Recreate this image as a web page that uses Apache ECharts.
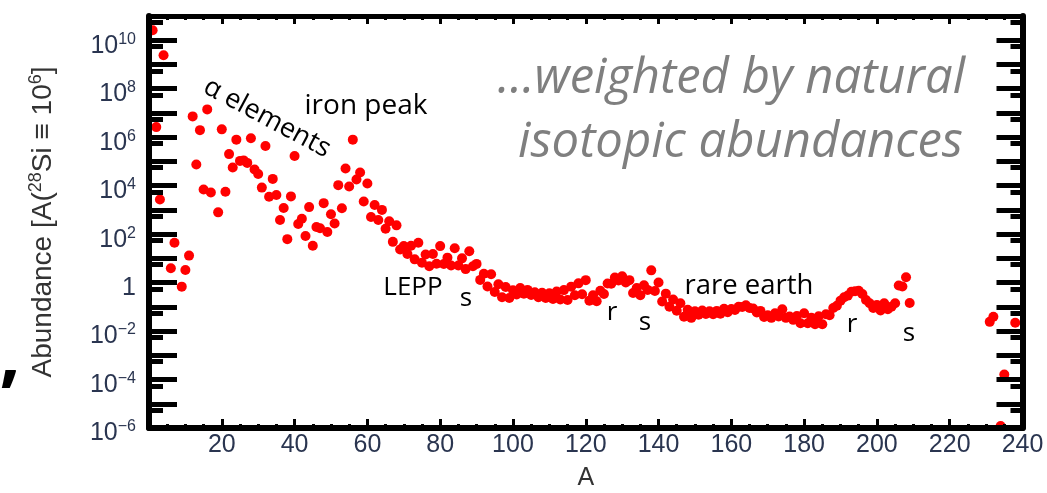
<!DOCTYPE html>
<html><head><meta charset="utf-8">
<script src="https://cdn.jsdelivr.net/npm/echarts@6/dist/echarts.min.js"></script>
<style>html,body{margin:0;padding:0;background:#fff}#c{width:1047px;height:493px}</style>
</head><body><div id="c"></div>
<script>
// Mass number A of each point
const massNumber = [
  1,2,3,4,6,7,9,10,11,12,13,14,15,16,17,19,20,21,22,23,24,25,26,27,28,29,30,31,32,33,34,35,36,37,38,39,40,
  41,42,43,44,45,46,47,48,49,50,51,52,53,54,55,56,57,58,59,60,61,62,63,64,65,66,67,68,69,70,
  71,72,73,74,75,76,77,78,79,80,81,82,83,84,85,86,87,88,89,90,91,92,93,94,95,96,97,98,99,100,
  101,102,103,104,105,106,107,108,109,110,111,112,113,114,115,116,117,118,119,120,
  121,122,123,124,125,126,127,128,129,130,131,132,133,134,135,136,137,138,139,140,
  141,142,143,144,145,146,147,148,149,150,151,152,153,154,155,156,157,158,159,160,
  161,162,163,164,165,166,167,168,169,170,171,172,173,174,175,176,177,178,179,180,
  181,182,183,184,185,186,187,188,189,190,191,192,193,194,195,196,197,198,199,200,
  201,202,203,204,205,206,207,208,209,231,232,234,235,238
];
// Abundance (Si-28 scale, 28Si = 1e6)
const abundance = [
  2.6e10,2.6e6,2.7e3,2.4e9,3.9,44,0.68,3.3,13,7.2e6,7.4e4,1.95e6,6.9e3,1.4e7,5.2e3,7.9e2,2.1e6,5.6e3,2.0e5,5.6e4,
  7.9e5,1.05e5,1.1e5,8.7e4,9.1e5,4.6e4,3.0e4,8.3e3,4.3e5,3.5e3,1.9e4,4.1e3,3.8e2,1.2e3,62,3.6e3,1.66e5,
  2.6e2,4.3e2,83,1.3e3,33,1.95e2,1.74e2,1.9e3,1.23e2,6.6e2,2.75e2,1.05e4,1.17e3,5.1e4,9.3e3,7.9e5,1.8e4,3.5e4,2.2e3,
  1.23e4,5.1e2,1.6e3,3.8e2,1.0e3,1.66e2,3.4e2,48,2.3e2,23,32,
  15,33,9.1,44,6.6,14.5,4.7,15,6.0,32,5.8,10.7,5.1,26,5.1,10,3.6,19.5,4.7,5.9,1.29,2.3,0.69,2.2,0.41,0.85,0.25,0.66,0.23,0.48,
  0.32,0.60,0.35,0.50,0.31,0.40,0.25,0.38,0.23,0.36,0.21,0.43,0.20,0.49,0.19,0.68,0.30,0.93,0.33,1.26,
  0.18,0.30,0.17,0.46,0.34,0.91,0.89,1.62,1.23,1.82,1.0,1.26,0.37,0.60,0.30,0.78,0.50,3.2,0.45,1.0,
  0.166,0.35,0.10,0.20,0.069,0.14,0.039,0.076,0.035,0.065,0.047,0.071,0.051,0.066,0.049,0.068,0.052,0.083,0.060,0.081,
  0.074,0.10,0.098,0.115,0.089,0.085,0.058,0.068,0.038,0.045,0.035,0.054,0.040,0.079,0.035,0.040,0.029,0.042,0.021,0.054,
  0.021,0.035,0.019,0.041,0.019,0.049,0.045,0.089,0.11,0.18,0.25,0.29,0.42,0.44,0.46,0.34,0.19,0.14,0.089,0.12,
  0.071,0.14,0.079,0.10,0.14,0.76,0.69,1.66,0.145,0.024,0.039,1.2e-6,1.6e-4,0.022
];
const xMin = 0, xMax = 240, xStep = 20;
const yMin = 1e-6, yMax = 1e11;
const yAxisTitle = '{n|Abundance [A(}{s|28}{n|Si ≡ 10}{s|6}{n|]}';
const xAxisTitle = 'A';
const noteLine1 = '…weighted by natural';
const noteLine2 = 'isotopic abundances';

const points = massNumber.map((a, i) => [a, abundance[i]]);
const labelColor = '#2a3550';
const labelFont = 'Liberation Sans';
const annFont = '"Open Sans"';

function yLabel(v) {
  const e = Math.round(Math.log10(v));
  if (e % 2 !== 0) return '';
  if (e === 0) return '{b|1}';
  return '{b|10}{s|' + (e < 0 ? '\u2212' + (-e) : e) + '}';
}

const chart = echarts.init(document.getElementById('c'), null, {renderer: 'canvas'});
const line6 = {onZero: false, lineStyle: {color: '#000', width: 6}};
chart.setOption({
  animation: false,
  backgroundColor: '#fff',
  grid: {left: 149, right: 24.5, top: 16, bottom: 65, containLabel: false, outerBoundsMode: 'none'},
  xAxis: [
    {
      type: 'value', min: xMin, max: xMax, interval: xStep, position: 'bottom', z: 5,
      axisLine: line6, splitLine: {show: false},
      axisTick: {inside: true, length: 9, lineStyle: {color: '#000', width: 3}},
      minorTick: {show: true, splitNumber: 4, length: 4, lineStyle: {color: '#000', width: 3}},
      axisLabel: {showMinLabel: false, fontFamily: labelFont, fontSize: 25, color: labelColor, margin: 5},
      name: xAxisTitle, nameLocation: 'middle', nameGap: 38,
      nameTextStyle: {fontFamily: labelFont, fontSize: 25, color: '#333'}
    },
    {
      type: 'value', min: xMin, max: xMax, interval: xStep, position: 'top', z: 5,
      axisLine: {onZero: false, lineStyle: {color: '#000', width: 5}}, splitLine: {show: false},
      axisTick: {inside: true, length: 8, lineStyle: {color: '#000', width: 3}},
      minorTick: {show: true, splitNumber: 4, length: 4, lineStyle: {color: '#000', width: 3}},
      axisLabel: {show: false}
    }
  ],
  yAxis: [
    {
      type: 'log', logBase: 10, min: yMin, max: yMax, interval: 1, splitNumber: 17, position: 'left', z: 5,
      axisLine: line6, splitLine: {show: false},
      axisTick: {inside: true, length: 28, lineStyle: {color: '#000', width: 5}},
      minorTick: {show: true, splitNumber: 2, length: 14, lineStyle: {color: '#000', width: 5}},
      axisLabel: {
        formatter: yLabel, margin: 13, padding: [8, 0, 0, 0],
        rich: {
          b: {fontFamily: labelFont, fontSize: 25, color: labelColor, verticalAlign: 'bottom', lineHeight: 28, padding: [6, 0, 0, 0]},
          s: {fontFamily: labelFont, fontSize: 16, color: labelColor, verticalAlign: 'bottom', lineHeight: 28, padding: [0, 0, 11, 0]}
        }
      },
      name: yAxisTitle, nameLocation: 'middle', nameGap: 92, nameRotate: 90,
      nameTextStyle: {
        rich: {
          n: {fontFamily: labelFont, fontSize: 28, color: '#333', verticalAlign: 'bottom', lineHeight: 32},
          s: {fontFamily: labelFont, fontSize: 18, color: '#333', verticalAlign: 'bottom', lineHeight: 32, padding: [0, 0, 12, 0]}
        }
      }
    },
    {
      type: 'log', logBase: 10, min: yMin, max: yMax, interval: 1, splitNumber: 17, position: 'right', z: 5,
      axisLine: line6, splitLine: {show: false},
      axisTick: {inside: true, length: 26, lineStyle: {color: '#000', width: 5}},
      minorTick: {show: true, splitNumber: 2, length: 12, lineStyle: {color: '#000', width: 5}},
      axisLabel: {show: false}
    }
  ],
  series: [{
    type: 'scatter', xAxisIndex: 0, yAxisIndex: 0, data: points,
    symbol: 'circle', symbolSize: 10, itemStyle: {color: '#ff0000', opacity: 1}, z: 2
  }],
  graphic: [
    {type: 'text', x: 267, y: 118, rotation: -0.49, z: 10, style: {text: 'α elements', font: '27px ' + annFont, fill: '#000', textAlign: 'center', textVerticalAlign: 'middle'}},
    {type: 'text', x: 366, y: 106, z: 10, style: {text: 'iron peak', font: '28px ' + annFont, fill: '#000', textAlign: 'center', textVerticalAlign: 'middle'}},
    {type: 'text', x: 413, y: 288, z: 10, style: {text: 'LEPP', font: '26px ' + annFont, fill: '#000', textAlign: 'center', textVerticalAlign: 'middle'}},
    {type: 'text', x: 466, y: 299, z: 10, style: {text: 's', font: '26px ' + annFont, fill: '#000', textAlign: 'center', textVerticalAlign: 'middle'}},
    {type: 'text', x: 612, y: 313, z: 10, style: {text: 'r', font: '26px ' + annFont, fill: '#000', textAlign: 'center', textVerticalAlign: 'middle'}},
    {type: 'text', x: 645, y: 323, z: 10, style: {text: 's', font: '26px ' + annFont, fill: '#000', textAlign: 'center', textVerticalAlign: 'middle'}},
    {type: 'text', x: 749, y: 286, z: 10, style: {text: 'rare earth', font: '27.5px ' + annFont, fill: '#000', textAlign: 'center', textVerticalAlign: 'middle'}},
    {type: 'text', x: 852, y: 325, z: 10, style: {text: 'r', font: '26px ' + annFont, fill: '#000', textAlign: 'center', textVerticalAlign: 'middle'}},
    {type: 'text', x: 909, y: 334, z: 10, style: {text: 's', font: '26px ' + annFont, fill: '#000', textAlign: 'center', textVerticalAlign: 'middle'}},
    {type: 'text', x: 965, y: 79, z: 10, style: {text: noteLine1, font: 'italic 49px ' + annFont, fill: '#7f7f7f', textAlign: 'right', textVerticalAlign: 'middle'}},
    {type: 'text', x: 963, y: 143, z: 10, style: {text: noteLine2, font: 'italic 49px ' + annFont, fill: '#7f7f7f', textAlign: 'right', textVerticalAlign: 'middle'}},
    {type: 'text', x: 10, y: 358, z: 10, style: {text: ',', font: 'bold 74px ' + annFont, fill: '#000', textAlign: 'center', textVerticalAlign: 'middle'}}
  ]
});
</script>
</body></html>
